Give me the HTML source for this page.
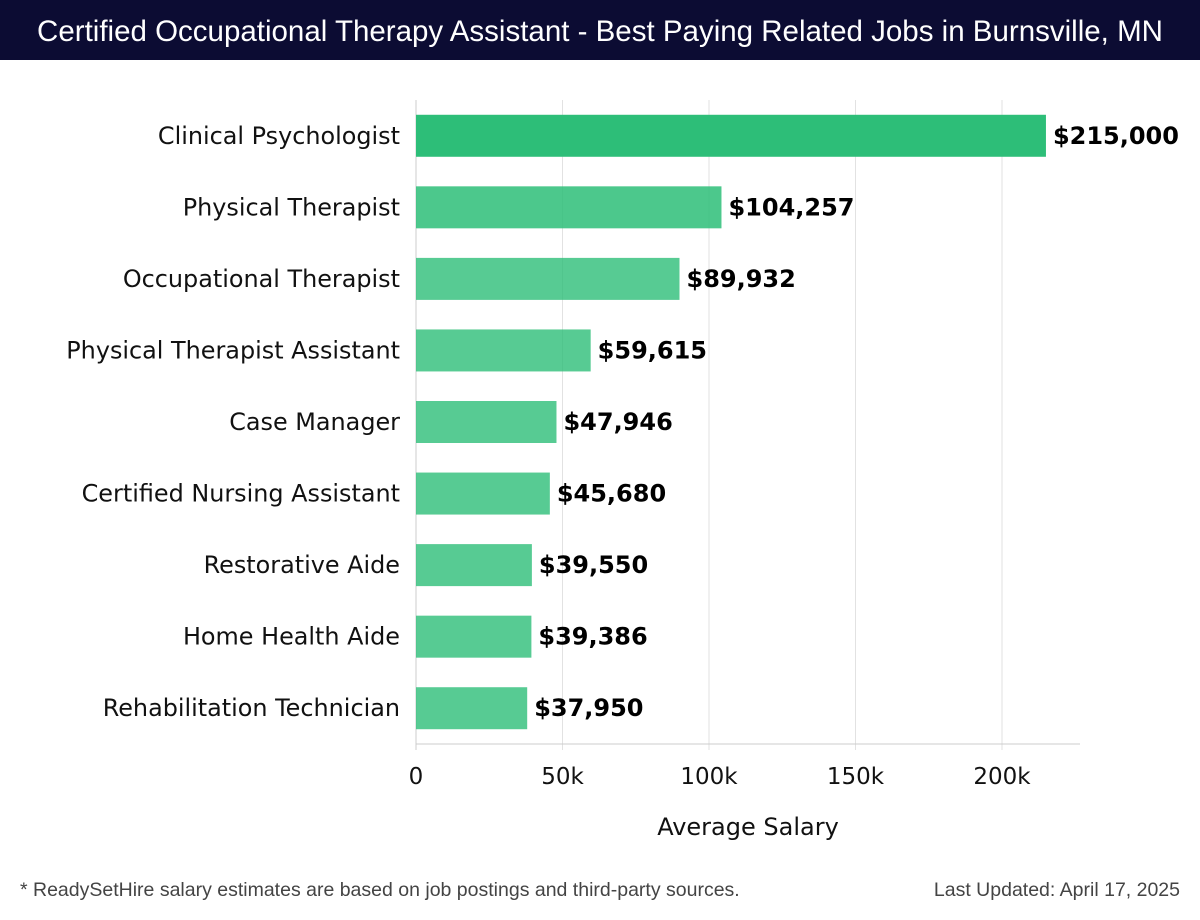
<!DOCTYPE html>
<html><head><meta charset="utf-8"><style>
body{margin:0;width:1200px;height:920px;background:#fff;font-family:"DejaVu Sans","Liberation Sans",sans-serif;overflow:hidden}
#title{position:absolute;left:0;top:0;width:1200px;height:60px;background:#0c0c33;color:#fff;font-size:29.5px;line-height:64px;text-align:center;font-family:"Liberation Sans",sans-serif;white-space:nowrap}
.foot{position:absolute;top:879px;font-size:19.5px;color:#444;font-family:"Liberation Sans",sans-serif}
</style></head><body>
<div id="title">Certified Occupational Therapy Assistant - Best Paying Related Jobs in Burnsville, MN</div>
<svg id="chart" width="1200" height="920" style="position:absolute;left:0;top:0"></svg>
<div class="foot" style="left:20px">* ReadySetHire salary estimates are based on job postings and third-party sources.</div>
<div class="foot" style="right:20px">Last Updated: April 17, 2025</div>
<script>
const categories=["Clinical Psychologist","Physical Therapist","Occupational Therapist","Physical Therapist Assistant","Case Manager","Certified Nursing Assistant","Restorative Aide","Home Health Aide","Rehabilitation Technician"];
const salaries=[215000,104257,89932,59615,47946,45680,39550,39386,37950];
const tickValues=[0,50000,100000,150000,200000];
const tickLabels=["0","50k","100k","150k","200k"];
const NS="http://www.w3.org/2000/svg";
const svgEl=document.getElementById('chart');
const X0=416,PXPER=586/200000,PTOP=100,PBOT=744,PRIGHT=1080;
const band=(PBOT-PTOP)/categories.length;
const xs=v=>X0+v*PXPER;
const yc=i=>PTOP+band*(i+0.5);
function mk(t,a){const e=document.createElementNS(NS,t);for(const k in a)e.setAttribute(k,a[k]);svgEl.appendChild(e);return e;}
tickValues.forEach((v,i)=>{
 const g=mk('line',{x1:xs(v),x2:xs(v),y1:PTOP,y2:PBOT+6,stroke:i==0?'#ccc':'#e2e2e2','stroke-width':1});
 
 
 const t=mk('text',{x:xs(v),y:784,'text-anchor':'middle','font-size':23,fill:'#111'});
 t.textContent=tickLabels[i];
 
 
});
const ax=mk('line',{x1:X0,x2:PRIGHT,y1:PBOT,y2:PBOT,stroke:'#ccc'});


categories.forEach((c,i)=>{
 const y=yc(i);
 const r=mk('rect',{x:X0,y:y-21,width:xs(salaries[i])-X0,height:42,fill:'#2dbe78','fill-opacity':i==0?1:(i==1?0.85:0.8)});
 
 
 const l=mk('text',{x:400,y:y+8,'text-anchor':'end','font-size':23.9,fill:'#111'});
 l.textContent=c;
 
 
 const v=mk('text',{x:xs(salaries[i])+7,y:y+8,'font-size':24,'font-weight':'bold',fill:'#000'});
 v.textContent='$'+salaries[i].toLocaleString('en-US');
 
 
});
const at=mk('text',{x:748,y:835,'text-anchor':'middle','font-size':24,fill:'#111'});
at.textContent='Average Salary';


</script>
</body></html>
